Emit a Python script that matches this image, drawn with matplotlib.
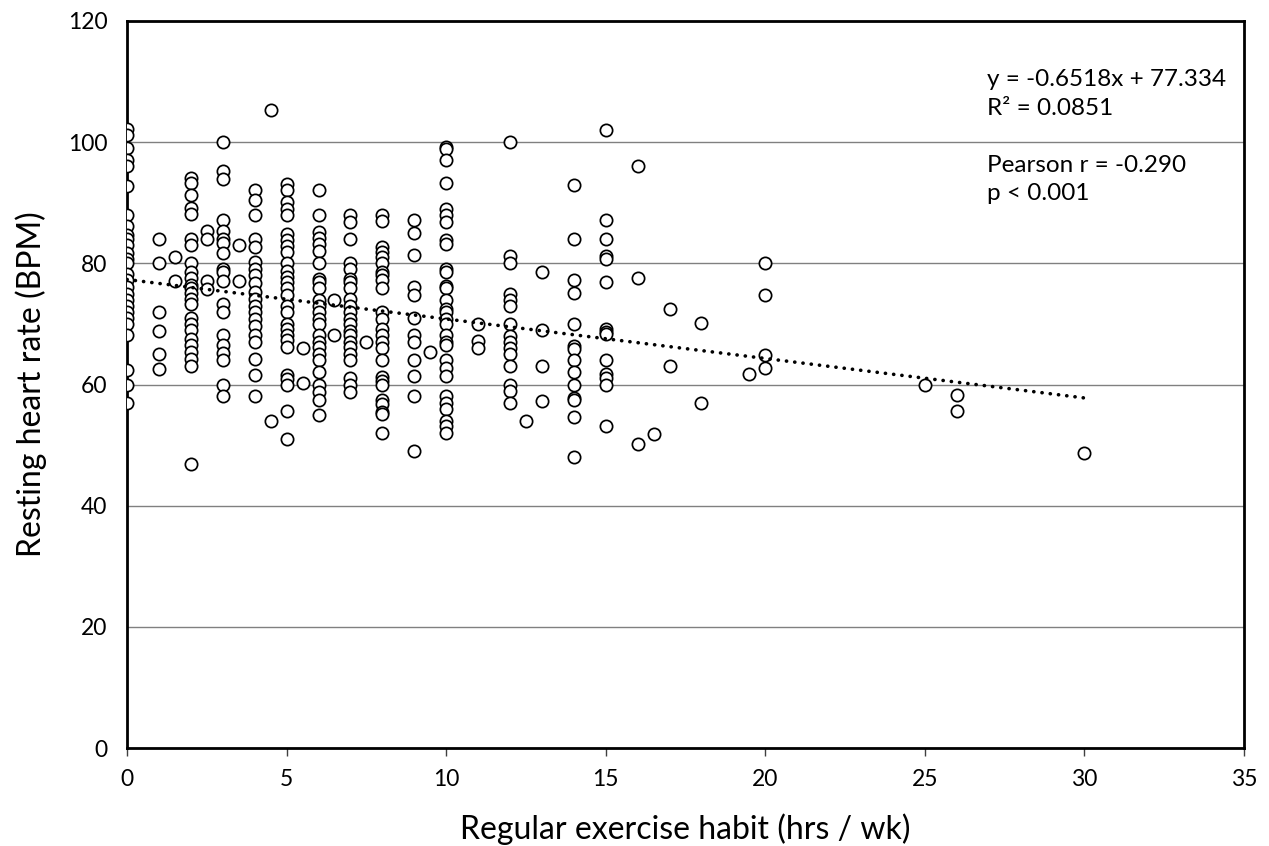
import matplotlib.pyplot as plt
import numpy as np

plt.rcParams['font.family'] = ['Lato', 'DejaVu Sans']

# resting heart rate readings, one list per hours/week column
h0 = [102.1, 101.2, 99.0, 97.1, 96.0, 92.7, 88.0, 86.1, 84.7, 84.0, 83.0, 81.7, 80.7, 80.0,
      78.2, 77.2, 76.1, 75.0, 74.0, 73.0, 71.9, 70.9, 70.0, 68.1, 62.4, 60.0, 57.0]
h1 = [84.0, 80.0, 72.0, 68.8, 65.1, 62.6]
h1_5 = [81.0, 77.1]
h2 = [94.1, 93.2, 91.2, 89.2, 88.1, 84.0, 83.0, 80.0, 78.5, 77.5, 76.5, 75.9, 75.1, 74.1,
      73.3, 70.9, 70.0, 69.0, 67.5, 66.5, 65.3, 64.2, 63.1, 46.9]
h2_5 = [85.3, 84.0, 77.1, 75.8]
h3 = [100.0, 95.3, 94.0, 87.2, 85.3, 84.0, 83.4, 81.7, 79.0, 78.5, 77.1, 73.3, 72.0, 68.1,
      66.5, 65.2, 64.0, 60.0, 58.1]
h3_5 = [83.0, 77.1]
h4 = [92.1, 90.5, 88.0, 84.0, 82.7, 80.2, 79.1, 78.0, 76.8, 75.2, 74.1, 73.0, 72.0, 70.8,
      69.6, 68.1, 67.0, 64.2, 61.6, 58.1]
h4_5 = [105.3, 54.0]
h5 = [93.1, 92.1, 90.1, 89.0, 88.0, 84.8, 83.8, 82.9, 81.8, 80.0, 78.8, 77.7, 76.9, 75.9,
      74.7, 73.0, 71.9, 70.0, 69.2, 68.1, 67.3, 66.2, 61.6, 60.9, 60.0, 55.7, 51.0]
h5_5 = [66.0, 60.2]
h6 = [92.1, 88.0, 85.1, 84.2, 83.2, 82.1, 80.0, 77.4, 76.9, 75.9, 74.0, 72.9, 71.9, 70.8,
      70.0, 68.1, 67.0, 66.2, 65.1, 64.0, 62.0, 60.0, 58.7, 57.4, 55.0]
h6_5 = [74.0, 68.1]
h7 = [88.0, 86.8, 84.0, 80.0, 79.1, 77.4, 77.0, 75.9, 74.1, 73.0, 71.9, 70.8, 70.0, 68.9,
      68.1, 67.0, 66.2, 65.1, 64.0, 61.0, 59.9, 58.7]
h7_5 = [67.0]
h8 = [88.0, 87.0, 82.7, 81.8, 81.0, 80.0, 78.6, 78.0, 77.2, 75.9, 72.0, 70.8, 69.2, 68.1,
      67.0, 66.0, 64.0, 61.2, 60.6, 60.0, 57.4, 56.8, 55.4, 55.2, 52.0]
h9 = [87.2, 85.0, 81.3, 76.1, 74.7, 70.9, 68.1, 67.0, 64.0, 61.4, 58.1, 49.0]
h9_5 = [65.3]
h10 = [99.2, 98.8, 97.1, 93.2, 88.9, 87.9, 86.8, 83.8, 83.2, 79.1, 78.6, 76.3, 75.9, 74.0,
       72.5, 71.9, 70.8, 70.0, 68.1, 67.0, 66.5, 64.1, 62.7, 61.4, 58.1, 57.0, 56.0, 54.0,
       53.1, 52.0]
h11 = [70.0, 67.1, 66.0]
h12 = [100.0, 81.2, 80.0, 74.9, 73.9, 72.9, 70.0, 68.0, 67.0, 66.0, 65.0, 63.0, 60.0, 59.0, 57.0]
h12_5 = [54.0]
h13 = [78.6, 69.0, 63.0, 57.2]
h14 = [93.0, 84.0, 77.3, 75.1, 70.0, 66.3, 65.9, 64.0, 62.0, 60.0, 57.7, 57.4, 54.6, 48.0]
h15 = [102.0, 87.2, 84.0, 81.2, 80.7, 77.0, 69.2, 68.6, 68.3, 64.0, 61.8, 61.0, 60.0, 53.2]
h16 = [96.0, 77.5, 50.2]
h16_5 = [51.8]
h17 = [72.4, 63.0]
h18 = [70.2, 57.0]
h19_5 = [61.8]
h20 = [80.0, 74.8, 64.8, 62.7]
h25 = [60.0]
h26 = [58.3, 55.7]
h30 = [48.7]

columns = {0: h0, 1: h1, 1.5: h1_5, 2: h2, 2.5: h2_5, 3: h3, 3.5: h3_5, 4: h4, 4.5: h4_5,
           5: h5, 5.5: h5_5, 6: h6, 6.5: h6_5, 7: h7, 7.5: h7_5, 8: h8, 9: h9, 9.5: h9_5,
           10: h10, 11: h11, 12: h12, 12.5: h12_5, 13: h13, 14: h14, 15: h15, 16: h16,
           16.5: h16_5, 17: h17, 18: h18, 19.5: h19_5, 20: h20, 25: h25, 26: h26, 30: h30}

hours = []
bpm = []
for h, vals in columns.items():
    hours += [h] * len(vals)
    bpm += vals

slope = -0.6518
intercept = 77.334
trend_x = [0, 30]

fig = plt.figure(figsize=(12.69, 8.46), dpi=100)
ax = fig.add_axes([0.1001, 0.1158, 0.8802, 0.8594])

ax.scatter(hours, bpm, s=78, facecolors='white', edgecolors='black', linewidths=1.25, zorder=3)

# linear trendline
tx = np.array(trend_x)
ax.plot(tx, slope * tx + intercept, color='black', lw=2.6,
        linestyle=(0, (0.05, 2.25)), dash_capstyle='round', zorder=4)

ax.set_xlim(0, 35)
ax.set_ylim(0, 120)
ax.set_xticks(np.arange(0, 36, 5))
ax.set_yticks(np.arange(0, 121, 20))
ax.yaxis.grid(True, color='#808080', lw=1.0)
ax.set_axisbelow(True)

for s in ax.spines.values():
    s.set_linewidth(2)
    s.set_color('black')

ax.tick_params(axis='x', direction='out', length=6, width=1, color='#404040',
               labelsize=16.5, pad=9)
ax.tick_params(axis='y', length=0, labelsize=16.5, pad=14)

ax.set_xlabel('Regular exercise habit (hrs / wk)', fontsize=23, labelpad=17)
ax.set_ylabel('Resting heart rate (BPM)', fontsize=23, labelpad=15)

ax.text(26.95, 110.4, 'y = -0.6518x + 77.334', fontsize=17.5, va='center')
ax.text(26.95, 105.6, 'R² = 0.0851', fontsize=17.5, va='center')
ax.text(26.95, 96.1, 'Pearson r = -0.290', fontsize=17.5, va='center')
ax.text(26.95, 91.6, 'p < 0.001', fontsize=17.5, va='center')

fig.savefig('out.png', dpi=100)
